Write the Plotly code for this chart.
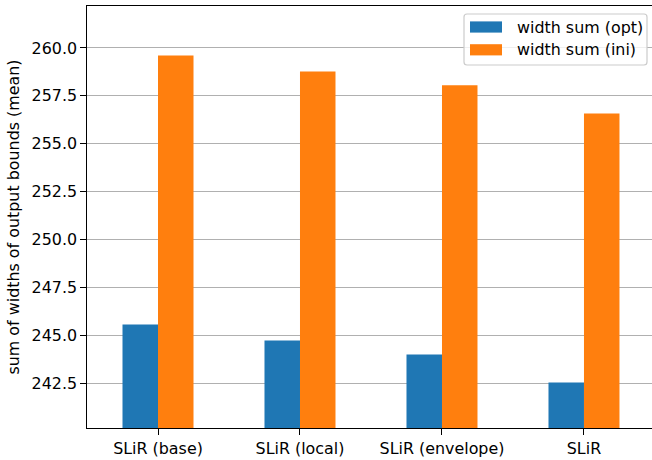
import plotly.graph_objects as go

# Mean sum of output-bound widths per method
methods = ["SLiR (base)", "SLiR (local)", "SLiR (envelope)", "SLiR"]
width_sum_opt = [245.55, 244.72, 243.99, 242.52]
width_sum_ini = [259.60, 258.77, 258.05, 256.57]
series_names = ["width sum (opt)", "width sum (ini)"]
series_colors = ["#1f77b4", "#ff7f0e"]
y_ticks = [242.5, 245.0, 247.5, 250.0, 252.5, 255.0, 257.5, 260.0]

FONT = "DejaVu Sans"
FS = 15.9

W, H = 652, 460
L, R, T, B = 87, 0, 6, 32
PW, PH = W - L - R, H - T - B


def px_x(x):
    return (x - L) / PW


def px_y(y):
    return 1 - (y - T) / PH


fig = go.Figure()
for name, vals, col in zip(series_names, [width_sum_opt, width_sum_ini], series_colors):
    fig.add_trace(go.Bar(x=methods, y=vals, name=name, marker=dict(color=col, line=dict(width=0)),
                         showlegend=False))

# legend box drawn as shapes + text
shapes = []
x0, x1, y0, y1, r = px_x(464), px_x(647), px_y(14), px_y(65), 3
rx, ry = r / PW, r / PH
path = (f"M {x0+rx},{y0} L {x1-rx},{y0} Q {x1},{y0} {x1},{y0-ry} "
        f"L {x1},{y1+ry} Q {x1},{y1} {x1-rx},{y1} L {x0+rx},{y1} "
        f"Q {x0},{y1} {x0},{y1+ry} L {x0},{y0-ry} Q {x0},{y0} {x0+rx},{y0} Z")
shapes.append(dict(type="path", path=path, xref="paper", yref="paper",
                   fillcolor="rgba(255,255,255,0.8)", line=dict(color="#cccccc", width=1.2),
                   layer="above"))
annotations = []
for i, (name, col) in enumerate(zip(series_names, series_colors)):
    cy = 27 + i * 22.8
    shapes.append(dict(type="rect", xref="paper", yref="paper",
                       x0=px_x(470), x1=px_x(502), y0=px_y(cy - 5.6), y1=px_y(cy + 5.6),
                       fillcolor=col, line=dict(width=0), layer="above"))
    annotations.append(dict(text=name, xref="paper", yref="paper", x=px_x(515), y=px_y(cy),
                            xanchor="left", yanchor="middle", showarrow=False,
                            font=dict(family=FONT, size=FS, color="black")))

fig.update_layout(
    width=W, height=H,
    margin=dict(l=L, r=R, t=T, b=B),
    paper_bgcolor="white", plot_bgcolor="white",
    barmode="group", bargap=0.5, bargroupgap=0,
    font=dict(family=FONT, size=FS, color="black"),
    shapes=shapes, annotations=annotations,
)
fig.update_xaxes(
    type="category", range=[-0.5, 3.479],
    showline=True, linecolor="black", linewidth=1.27, mirror=True,
    ticks="outside", ticklen=5.6, tickwidth=1.27, tickcolor="black",
    showgrid=False, tickfont=dict(family=FONT, size=FS, color="black"),
)
fig.update_yaxes(
    range=[240.15, 262.19],
    tickvals=y_ticks, ticktext=[f"{v:.1f}" for v in y_ticks],
    showline=True, linecolor="black", linewidth=1.27,
    ticks="outside", ticklen=5.6, tickwidth=1.27, tickcolor="black",
    showgrid=True, gridcolor="#b0b0b0", gridwidth=1.27, zeroline=False,
    tickfont=dict(family=FONT, size=FS, color="black"),
    title=dict(text="sum of widths of output bounds (mean)", standoff=8,
               font=dict(family=FONT, size=FS, color="black")),
)

fig.write_html("out.html")
